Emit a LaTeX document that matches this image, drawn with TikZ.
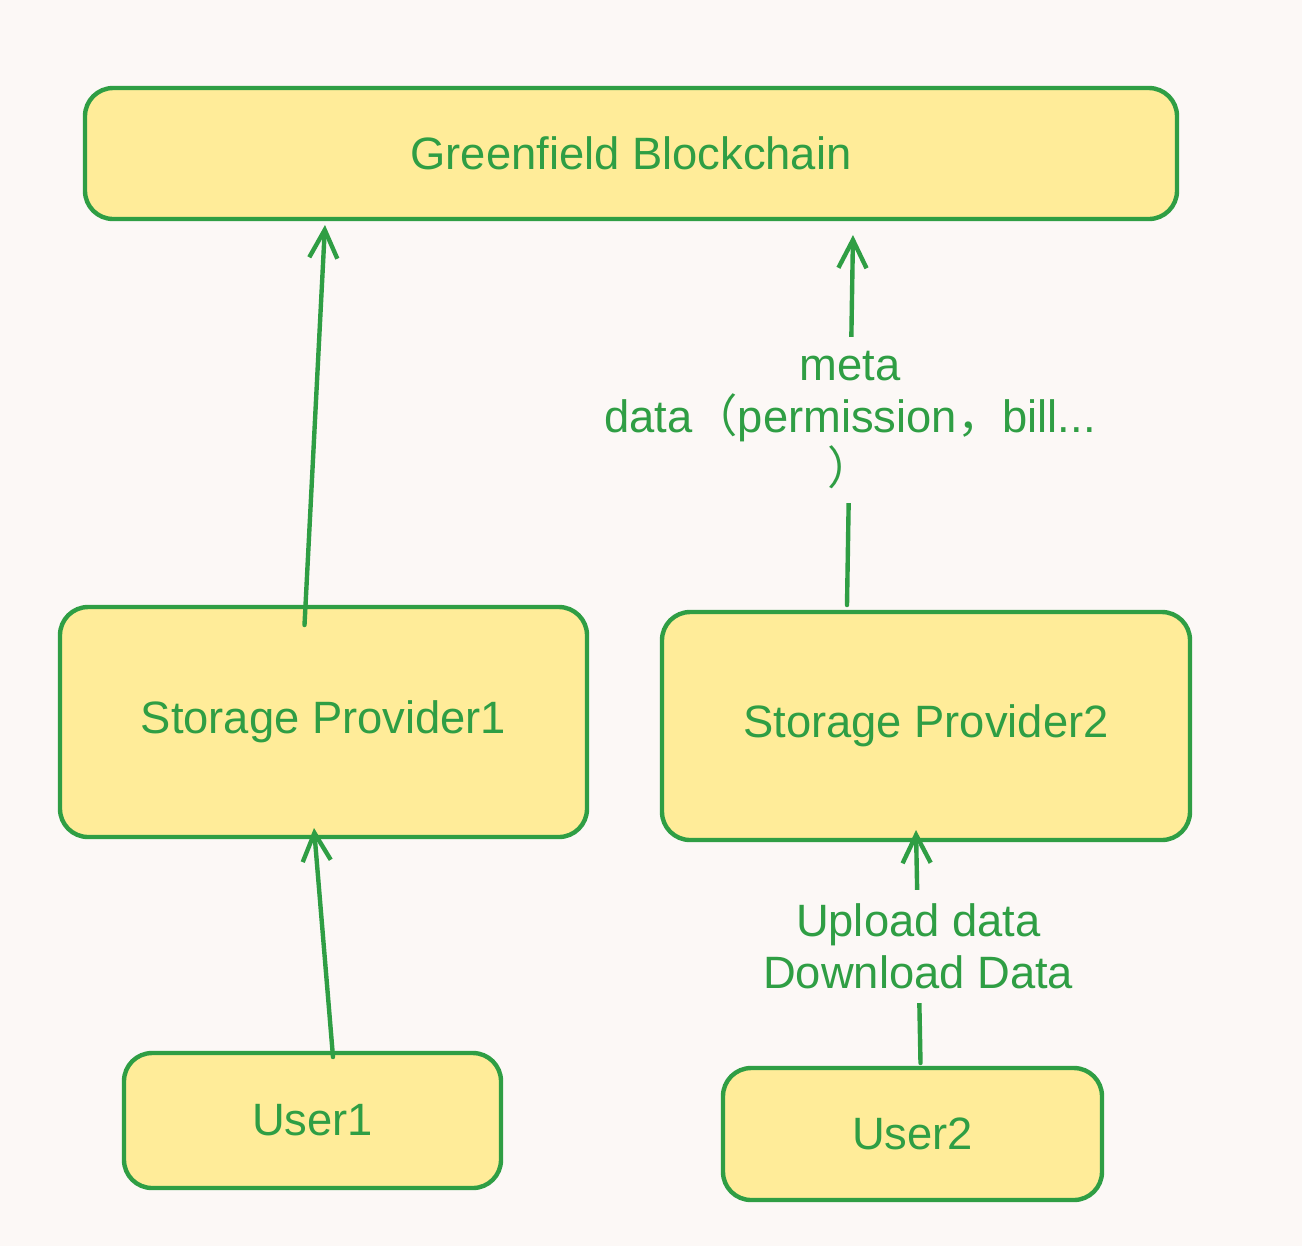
\documentclass[tikz,border=0pt]{standalone}
\usepackage{fontspec}
\setmainfont{Liberation Sans}
\newfontfamily\cjk{Noto Sans CJK SC}
\usetikzlibrary{arrows.meta}
\definecolor{exgreen}{HTML}{2F9E44}
\definecolor{exyellow}{HTML}{FFEC99}
\definecolor{paper}{HTML}{FCF8F6}
\tikzset{
  box/.style={draw=exgreen, fill=exyellow, line width=1.25pt, rounded corners=8pt, inner sep=0pt, outer sep=0pt, text=exgreen, font=\fontsize{12.9}{15}\selectfont},
  link/.style={draw=exgreen, line width=1.25pt, line cap=round, -{Straight Barb[length=8pt,width=8pt,line width=1.25pt]}},
  tag/.style={fill=paper, text=exgreen, align=center, inner sep=4pt, font=\fontsize{12.9}{14.8}\selectfont}
}

\begin{document}
\begin{tikzpicture}
    \fill[paper] (0,0) rectangle (13.02,-12.46);
    \useasboundingbox (0,0) rectangle (13.02,-12.46);
    \node[box, minimum width=10.92cm, minimum height=1.31cm] (gb) at (6.31,-1.535) {Greenfield Blockchain};
    \node[box, minimum width=5.27cm, minimum height=2.30cm] (sp1) at (3.235,-7.22) {Storage Provider1};
    \node[box, minimum width=5.28cm, minimum height=2.28cm] (sp2) at (9.26,-7.26) {Storage Provider2};
    \node[box, minimum width=3.77cm, minimum height=1.35cm] (u1) at (3.125,-11.205) {User1};
    \node[box, minimum width=3.79cm, minimum height=1.32cm] (u2) at (9.125,-11.34) {User2};
    \draw[link] ([shift={(-0.19,-0.18)}]sp1.north) -- ([shift={(-3.06,-0.06)}]gb.south);
    \draw[link] ([shift={(0.205,-0.04)}]u1.north) -- ([shift={(-0.095,0.09)}]sp1.south);
    \draw[link] ([shift={(-0.79,0.07)}]sp2.north) -- node[tag] {meta\\data{\cjk （}permission{\cjk ，}bill...\\{\cjk ）}} ([shift={(2.22,-0.16)}]gb.south);
    \draw[link] ([shift={(0.08,0.05)}]u2.north) -- node[tag] {Upload data\\Download Data} ([shift={(-0.1,0.10)}]sp2.south);
\end{tikzpicture}
\end{document}
